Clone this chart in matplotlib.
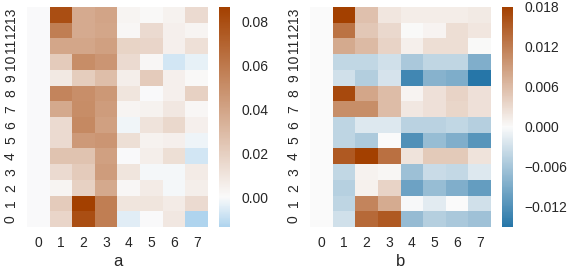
import numpy as np
import matplotlib
matplotlib.use("Agg")
import matplotlib.pyplot as plt
from matplotlib.colors import LinearSegmentedColormap, Normalize
from matplotlib.ticker import FuncFormatter

plt.rcParams['font.family'] = ['Liberation Sans', 'DejaVu Sans']
plt.rcParams['text.color'] = '.15'
plt.rcParams['axes.labelcolor'] = '.15'
plt.rcParams['xtick.color'] = '.15'
plt.rcParams['ytick.color'] = '.15'

col_labels = [str(i) for i in range(8)]
row_labels = [str(i) for i in range(14)]

# rows 0..13 (bottom to top), columns 0..7
a_values = [
    [0, 0.017, 0.080, 0.058, -0.0045, 0.000, 0.009, -0.0136],
    [0, 0.022, 0.0868, 0.058, 0.010, 0.010, 0.007, 0.015],
    [0, 0.003, 0.019, 0.038, 0.002, 0.007, -0.001, 0.006],
    [0, 0.015, 0.022, 0.044, 0.010, -0.001, -0.001, 0.007],
    [0, 0.026, 0.026, 0.042, 0.000, 0.006, 0.013, -0.007],
    [0, 0.015, 0.045, 0.047, 0.013, 0.004, 0.005, -0.002],
    [0, 0.015, 0.053, 0.042, -0.0015, 0.011, 0.016, 0.005],
    [0, 0.038, 0.051, 0.044, 0.003, 0.004, 0.009, 0.002],
    [0, 0.055, 0.050, 0.046, 0.010, 0.000, 0.005, 0.019],
    [0, 0.008, 0.021, 0.028, 0.006, 0.022, 0.005, 0.001],
    [0, 0.022, 0.051, 0.047, 0.015, 0.002, -0.0072, -0.0033],
    [0, 0.039, 0.039, 0.042, 0.018, 0.017, 0.005, 0.012],
    [0, 0.058, 0.037, 0.039, 0.002, 0.015, 0.005, 0.003],
    [0, 0.080, 0.037, 0.040, 0.003, 0.001, 0.004, 0.015],
]

b_values = [
    [0, -0.0029, 0.0140, 0.0155, -0.0071, -0.0049, -0.0057, -0.0064],
    [0, -0.0043, 0.0113, 0.0076, -0.0002, -0.0016, 0.0000, -0.0029],
    [0, -0.0047, 0.0009, 0.0037, -0.0099, -0.0070, -0.0086, -0.0106],
    [0, -0.0040, 0.0008, 0.0004, -0.0066, -0.0034, -0.0038, -0.0020],
    [0, 0.0155, 0.0180, 0.0133, 0.0022, 0.0047, 0.0047, 0.0022],
    [0, -0.0043, -0.0054, 0.0000, -0.0120, -0.0070, -0.0086, -0.0114],
    [0, -0.0043, -0.0021, -0.0021, -0.0045, -0.0045, -0.0040, -0.0049],
    [0, 0.0104, 0.0104, 0.0059, 0.0018, 0.0025, 0.0035, 0.0025],
    [0, 0.0170, 0.0081, 0.0059, 0.0006, 0.0025, 0.0037, 0.0025],
    [0, -0.0030, -0.0050, -0.0026, -0.0130, -0.0081, -0.0088, -0.0150],
    [0, -0.0040, -0.0040, -0.0030, -0.0057, -0.0041, -0.0041, -0.0086],
    [0, 0.0078, 0.0062, 0.0037, 0.0010, 0.0027, 0.0027, 0.0002],
    [0, 0.0130, 0.0049, 0.0032, 0.0002, 0.0006, 0.0027, 0.0020],
    [0, 0.0180, 0.0055, 0.0020, 0.0013, 0.0013, 0.0013, 0.0015],
]

a_ticks = [0.00, 0.02, 0.04, 0.06, 0.08]
b_ticks = [-0.012, -0.006, 0.0, 0.006, 0.012, 0.018]

brown = (163/255, 64/255, 0/255)
mid = (250/255, 250/255, 250/255)


def make_cmap(vmin, vmax, low_color):
    z = -vmin / (vmax - vmin)
    return LinearSegmentedColormap.from_list('c', [(0, low_color), (z, mid), (1, brown)], N=256)


W, H = 569, 268
fig = plt.figure(figsize=(W / 100, H / 100), dpi=100)


def draw(values, label, ticks, fmt, ax_rect, cax_rect, low_color):
    data = np.array(values)
    vmin, vmax = data.min(), data.max()
    cmap = make_cmap(vmin, vmax, low_color)
    ax = fig.add_axes(ax_rect)
    cax = fig.add_axes(cax_rect)
    m = ax.pcolormesh(np.arange(data.shape[1] + 1), np.arange(data.shape[0] + 1), data,
                      cmap=cmap, norm=Normalize(vmin, vmax))
    ax.set_xlim(0, data.shape[1])
    ax.set_ylim(0, data.shape[0])
    ax.set_xticks(np.arange(data.shape[1]) + 0.5)
    ax.set_xticklabels(col_labels)
    ax.set_yticks(np.arange(data.shape[0]) + 0.5)
    ax.set_yticklabels(row_labels, rotation=90, va='center')
    ax.tick_params(length=0, pad=6.5, labelsize=10)
    for s in ax.spines.values():
        s.set_visible(False)
    ax.set_xlabel(label, fontsize=12, labelpad=3)
    cb = fig.colorbar(m, cax=cax)
    cb.outline.set_linewidth(0)
    cb.set_ticks(ticks)
    cb.ax.yaxis.set_major_formatter(FuncFormatter(lambda v, p: (fmt % v).replace('-', '\u2212')))
    cb.ax.tick_params(length=0, pad=8, labelsize=10)
    return ax


def rect(x0, y0, x1, y1):
    return [x0 / W, (H - y1) / H, (x1 - x0) / W, (y1 - y0) / H]


draw(a_values, 'a', a_ticks, '%.2f', rect(27, 7, 208, 227), rect(219, 7, 230, 227),
     (175/255, 212/255, 238/255))
draw(b_values, 'b', b_ticks, '%.3f', rect(310, 7, 491, 227), rect(502, 7, 513, 227),
     (38/255, 118/255, 168/255))

fig.savefig('out.png', dpi=100)
